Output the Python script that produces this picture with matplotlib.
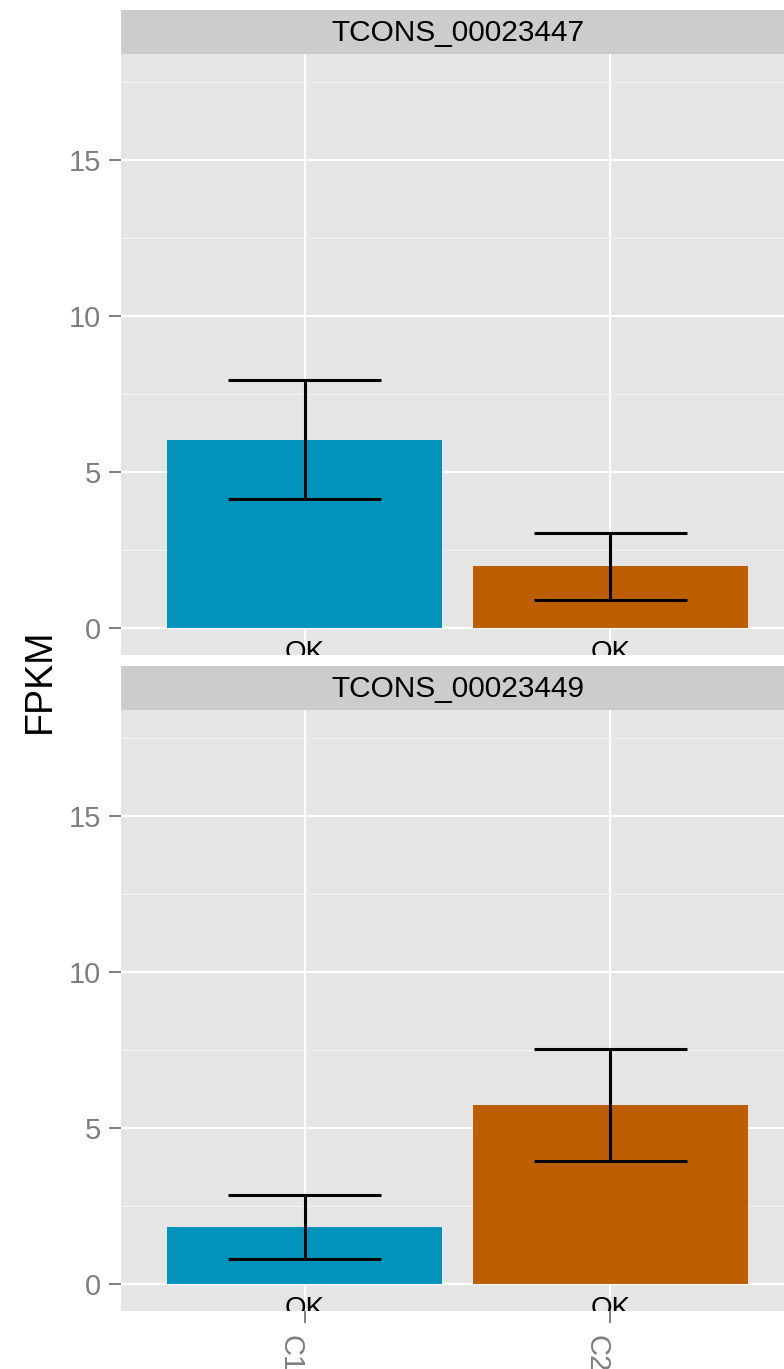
import matplotlib
matplotlib.use('Agg')
import matplotlib.pyplot as plt
import matplotlib.transforms as mtransforms

plt.rcParams['font.family'] = ['Liberation Sans', 'DejaVu Sans']

# data
conditions = ['C1', 'C2']
genes = ['TCONS_00023447', 'TCONS_00023449']
fpkm = [[6.03, 1.99], [1.83, 5.74]]
conf_lo = [[4.13, 0.90], [0.80, 3.94]]
conf_hi = [[7.95, 3.04], [2.85, 7.53]]
status = [['OK', 'OK'], ['OK', 'OK']]
bar_colors = ['#0094BD', '#BD5E00']

W, H = 784, 1369
fig = plt.figure(figsize=(W / 100, H / 100), dpi=100)

def px_box(left, top, right, bottom):
    return [left / W, (H - bottom) / H, (right - left) / W, (bottom - top) / H]

panels = [(10, 54, 655), (666, 710, 1311)]
grey_txt = '#7F7F7F'

for k, gene in enumerate(genes):
    s_top, p_top, p_bot = panels[k]
    # strip
    sax = fig.add_axes(px_box(121, s_top, 794, p_top))
    sax.set_facecolor('#CCCCCC')
    sax.set_xticks([]); sax.set_yticks([])
    for sp in sax.spines.values():
        sp.set_visible(False)
    sax.text(0.5, 0.48, gene, ha='center', va='center', fontsize=21.5, color='black',
             transform=sax.transAxes)

    ax = fig.add_axes(px_box(121, p_top, 794, p_bot))
    ax.set_facecolor('#E5E5E5')
    for sp in ax.spines.values():
        sp.set_visible(False)
    xs = [1, 2]
    ax.bar(xs, fpkm[k], width=0.9, color=bar_colors, zorder=2)
    for i, x in enumerate(xs):
        ax.plot([x, x], [conf_lo[k][i], conf_hi[k][i]], color='black', lw=2.2, zorder=3,
                solid_capstyle='butt')
        for yv in (conf_lo[k][i], conf_hi[k][i]):
            ax.plot([x - 0.25, x + 0.25], [yv, yv], color='black', lw=2.2, zorder=3,
                    solid_capstyle='butt')
    off = mtransforms.offset_copy(ax.transData, fig=fig, x=0, y=-12, units='dots')
    for i, x in enumerate(xs):
        ax.text(x, 0, status[k][i], transform=off, ha='center', va='top',
                fontsize=20, color='black', clip_on=True, zorder=4)

    ax.set_xlim(0.4, 2.6)
    ax.set_ylim(-0.87, 18.4)
    ax.set_yticks([0, 5, 10, 15])
    ax.set_yticks([2.5, 7.5, 12.5, 17.5], minor=True)
    ax.set_xticks(xs)
    ax.grid(True, which='major', color='white', lw=1.5, zorder=0)
    ax.grid(True, which='minor', axis='y', color='#F2F2F2', lw=0.8, zorder=0)
    ax.set_axisbelow(True)
    ax.tick_params(axis='y', which='major', length=8.6, width=1.4, color=grey_txt,
                   labelcolor=grey_txt, labelsize=21, pad=5.5)
    ax.tick_params(axis='y', which='minor', length=0)
    if k == 0:
        ax.tick_params(axis='x', length=0, labelbottom=False)
    else:
        ax.set_xticklabels(conditions, rotation=270, ha='right')
        ax.tick_params(axis='x', length=8.6, width=1.4, color=grey_txt,
                       labelcolor=grey_txt, labelsize=21, pad=8.6)

fig.text(40 / W, (H - 681) / H, 'FPKM', rotation=90, ha='center', va='center',
         fontsize=27, color='black')

fig.savefig('out.png', dpi=100)
